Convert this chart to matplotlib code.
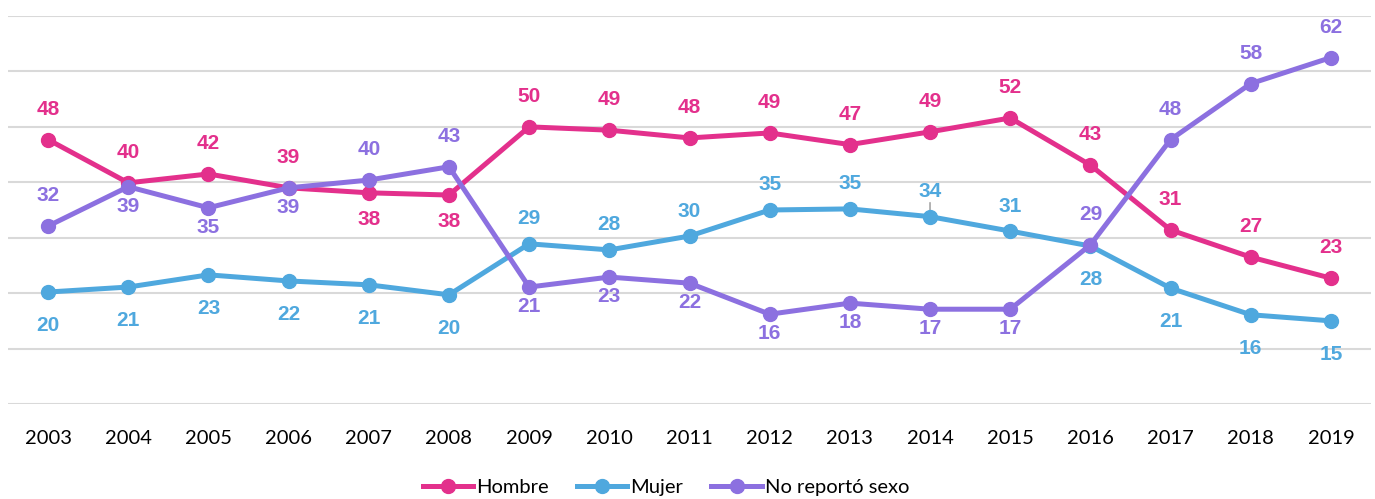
"""
Registros por sexo, 2003-2019.
"""

import matplotlib.pyplot as plt
from matplotlib.lines import Line2D

years = list(range(2003, 2020))
hombre = [47.7, 39.9, 41.5, 39.0, 38.1, 37.7, 50.0, 49.4, 48.0, 48.9, 46.8,
          49.1, 51.6, 43.1, 31.4, 26.5, 22.7]
mujer = [20.2, 21.1, 23.3, 22.2, 21.5, 19.7, 28.9, 27.8, 30.3, 35.0, 35.2,
         33.8, 31.2, 28.5, 20.9, 16.1, 15.0]
no_reporto = [32.1, 39.2, 35.4, 39.0, 40.4, 42.8, 21.1, 22.9, 21.8, 16.2,
              18.2, 17.1, 17.1, 28.7, 47.7, 57.8, 62.5]
labels_hombre = [48, 40, 42, 39, 38, 38, 50, 49, 48, 49, 47, 49, 52, 43, 31,
                 27, 23]
labels_mujer = [20, 21, 23, 22, 21, 20, 29, 28, 30, 35, 35, 34, 31, 28, 21,
                16, 15]
labels_no = [32, 39, 35, 39, 40, 43, 21, 23, 22, 16, 18, 17, 17, 29, 48, 58,
             62]
# label side: 'a' above the point, 'b' below
side_hombre = 'aaaabbaaaaaaaaaaa'
side_mujer = 'bbbbbbaaaaaaabbbb'
side_no = 'abbbaabbbbbbbaaaa'

series = [
    ('Hombre', hombre, labels_hombre, side_hombre, '#E3308C', 22, 19),
    ('Mujer', mujer, labels_mujer, side_mujer, '#4FA8DE', 18, 24),
    ('No reportó sexo', no_reporto, labels_no, side_no, '#8C70E0', 22, 14),
]

fig = plt.figure(figsize=(13.75, 4.99), dpi=100)
ax = fig.add_axes([8/1375, 1 - 404/499, 1363/1375, 388/499])

# gridlines
for y in range(0, 71, 10):
    ax.axhline(y, color='#D9D9D9', lw=1.5, zorder=0)

lab_font = dict(family=['Liberation Sans Narrow', 'DejaVu Sans Condensed',
                        'Liberation Sans'],
                weight='bold', fontsize=15)

for name, vals, labs, sides, color, up, down in series:
    ax.plot(years, vals, color=color, lw=3.6, marker='o', ms=10,
            label=name, zorder=3, solid_capstyle='round')
    for x, v, lab, s in zip(years, vals, labs, sides):
        dy = up if s == 'a' else -down
        ax.annotate(str(lab), (x, v), xytext=(0, dy),
                    textcoords='offset points', ha='center', va='center',
                    color=color, annotation_clip=False, **lab_font)

# leader line for the 2014 Mujer label
i = years.index(2014)
ax.annotate('', (2014, mujer[i]), xytext=(0, 10), textcoords='offset points',
            arrowprops=dict(arrowstyle='-', color='#A6A6A6', lw=1.2,
                            shrinkA=0, shrinkB=0), zorder=2)

ax.set_xlim(2002.5, 2019.5)
ax.set_ylim(0, 70)
ax.set_xticks(years)
ax.set_xticklabels([str(y) for y in years], family='Lato', fontsize=14.5)
ax.tick_params(axis='x', length=0, pad=19)
ax.set_yticks([])
for sp in ax.spines.values():
    sp.set_visible(False)

handles = [Line2D([], [], color=c, lw=3.6, marker='o', ms=10)
           for _, _, _, _, c, _, _ in series]
fig.legend(handles, [s[0] for s in series], loc='center',
           bbox_to_anchor=(666/1375, 1 - 487/499), ncol=3, frameon=False,
           handlelength=2.5, handletextpad=0.15, columnspacing=1.4,
           prop=dict(family='Lato', size=14.5))

fig.savefig('out.png', dpi=100)
